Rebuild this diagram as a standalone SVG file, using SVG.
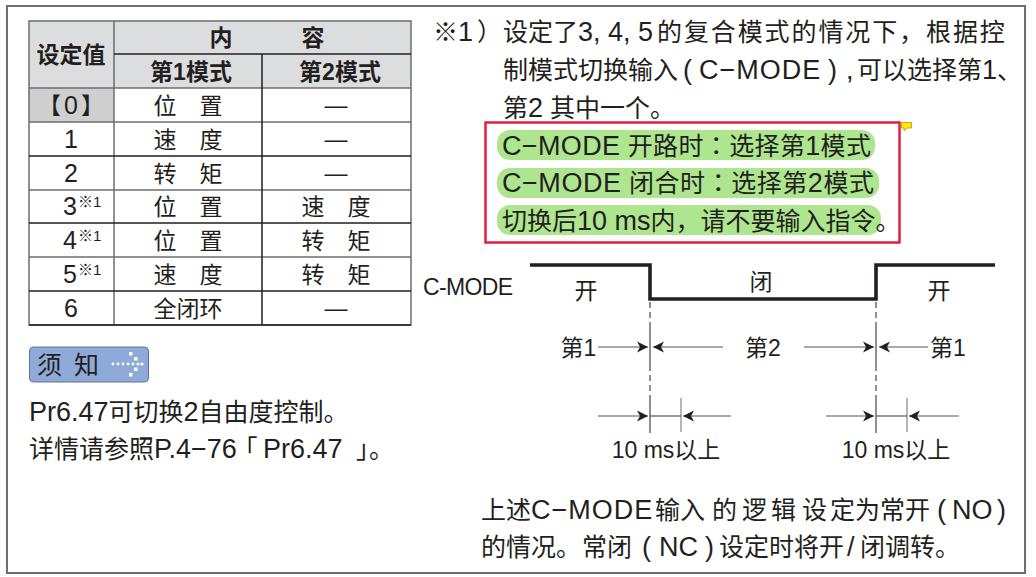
<svg xmlns="http://www.w3.org/2000/svg" width="1036" height="577" viewBox="0 0 1036 577">
<style>
text{font-family:"Liberation Sans","Noto Sans CJK SC",sans-serif;fill:#231f20;font-size:25px}
.t{font-size:23px;text-anchor:middle}
.b{font-weight:700}
.n{font-size:25px}
.s{font-size:15px}
.l{font-size:27px}
.c{font-family:"Noto Sans CJK TC",sans-serif}
.g{stroke:#231f20;stroke-width:1.5;fill:none}
.h{stroke:#6d6e70;stroke-width:1.5;fill:none}
.a{stroke:#555;stroke-width:1.2;fill:none}
.d{stroke:#231f20;stroke-width:1;stroke-dasharray:6 4;fill:none}
.p{fill:#aee58f}
</style>
<defs>
<marker id="ah" markerUnits="userSpaceOnUse" markerWidth="12" markerHeight="12" refX="11" refY="6" orient="auto-start-reverse"><path d="M0 0.5L11 6L0 11.5L3 6Z" fill="#231f20"/></marker>
</defs>
<rect id="frame" x="7" y="6" width="1018" height="567" fill="#fff" stroke="#6d6e70" stroke-width="2"/>
<g id="table">
<rect x="29" y="21" width="382" height="67" fill="#dcddde"/>
<rect x="29" y="88" width="85" height="34" fill="#cfcfd0"/>
<path class="h" d="M29 21H411V325H29ZM114 21V325M29 88H411M29 122H411M29 190H411M29 257H411"/>
<path class="g" d="M114 54H411M262 54V325M29 156H411M29 223H411M29 291H411M29 325H411"/>
<text class="t b" x="71" y="63">设定值</text>
<text class="t b" x="267" y="46">内　　　容</text>
<text class="t b" x="191" y="80">第1模式</text>
<text class="t b" x="340" y="80">第2模式</text>
<text class="t" x="71" y="114">【<tspan class="n" dx="3">0</tspan><tspan dx="3">】</tspan></text>
<text class="t" x="188" y="114">位　置</text>
<text class="t" x="336" y="113">—</text>
<text class="t n" x="71" y="148">1</text>
<text class="t" x="188" y="148">速　度</text>
<text class="t" x="336" y="147">—</text>
<text class="t n" x="71" y="182">2</text>
<text class="t" x="188" y="182">转　矩</text>
<text class="t" x="336" y="181">—</text>
<text class="n" x="63" y="215">3<tspan class="s" dx="1" dy="-8">※1</tspan></text>
<text class="t" x="188" y="215">位　置</text>
<text class="t" x="336" y="215">速　度</text>
<text class="n" x="63" y="249">4<tspan class="s" dx="1" dy="-8">※1</tspan></text>
<text class="t" x="188" y="249">位　置</text>
<text class="t" x="336" y="249">转　矩</text>
<text class="n" x="63" y="283">5<tspan class="s" dx="1" dy="-8">※1</tspan></text>
<text class="t" x="188" y="283">速　度</text>
<text class="t" x="336" y="283">转　矩</text>
<text class="t n" x="71" y="317">6</text>
<text class="t" x="188" y="317">全闭环</text>
<text class="t" x="336" y="316">—</text>
</g>
<g id="notice">
<rect x="29.5" y="347" width="119" height="35" rx="4" fill="#8faad8" stroke="#5f7597"/>
<text x="37" y="374" textLength="62" lengthAdjust="spacing">须 知</text>
<g fill="#fff"><circle cx="113" cy="364" r="1.4"/><circle cx="118" cy="364" r="1.4"/><circle cx="123" cy="364" r="1.4"/><circle cx="128" cy="364" r="1.4"/><circle cx="133" cy="364" r="1.4"/><circle cx="138" cy="364" r="1.6"/><circle cx="142" cy="364" r="1.6"/><rect x="129" y="352" width="3.5" height="3.5"/><rect x="134" y="357" width="3.5" height="3.5"/><rect x="134" y="367.500" width="3.5" height="3.5"/><rect x="129" y="373" width="3.5" height="3.5"/></g>
<text x="29" y="421"><tspan class="l">Pr6.47</tspan>可切换<tspan class="l">2</tspan>自由度控制。</text>
<text x="29" y="458">详情请参照<tspan class="l">P.4−76</tspan><tspan x="245">｢</tspan><tspan class="l" x="263">Pr6.47</tspan><tspan x="356">｣</tspan><tspan x="369">。</tspan></text>
</g>
<g id="note-text">
<text x="433" y="41">※<tspan class="l">1</tspan></text>
<text x="477" y="41">）</text>
<text x="503" y="41">设定了<tspan class="l">3, 4, 5</tspan><tspan x="657" letter-spacing="1.9">的复合模式的情况下，根据控</tspan></text>
<text x="503" y="79">制模式切换输入<tspan class="l" x="683">(</tspan><tspan class="l" x="699" letter-spacing="1">C−MODE</tspan><tspan class="l" x="828">)</tspan><tspan class="l" x="846">,</tspan><tspan x="857">可以选择第<tspan class="l">1</tspan>、</tspan></text>
<text x="503" y="117">第<tspan class="l">2</tspan> 其中一个。</text>
</g>
<g id="highlight">
<rect x="485.5" y="122.5" width="414" height="120" fill="#fff" stroke="#e0203f" stroke-width="2.5"/>
<rect class="p" x="497" y="130" width="378" height="30" rx="13"/>
<rect class="p" x="497" y="168" width="382" height="30" rx="13"/>
<rect class="p" x="497" y="205" width="384" height="30" rx="13"/>
<text x="502" y="155" textLength="369"><tspan class="l">C−MODE</tspan> 开路时<tspan class="c">：</tspan>选择第<tspan class="l">1</tspan>模式</text>
<text x="502" y="192" textLength="372"><tspan class="l">C−MODE</tspan> 闭合时<tspan class="c">：</tspan>选择第<tspan class="l">2</tspan>模式</text>
<text x="502" y="230">切换后<tspan class="l">10 ms</tspan>内，请不要输入指令。</text>
<path d="M901.500 122.500H911.500V128H907L904 131V128H901.500Z" fill="#ffe600" stroke="#b59a00" stroke-width="0.8"/>
</g>
<g id="timing-labels">
<text x="423" y="295" style="font-size:23px" textLength="90">C-MODE</text>
<text class="t" x="586" y="299">开</text>
<text class="t" x="761" y="290">闭</text>
<text class="t" x="939" y="299">开</text>
<text class="t" x="578.500" y="356">第1</text>
<text class="t" x="763" y="356">第2</text>
<text class="t" x="948" y="356">第1</text>
<text class="t" x="666" y="458">10 ms以上</text>
<text class="t" x="896" y="458">10 ms以上</text>
</g>
<g id="connectors">
<path d="M530 265H650V299H876V265H995" fill="none" stroke="#231f20" stroke-width="3.6"/>
<path class="d" d="M650 302V328M650 365V398M876 302V328M876 365V398"/>
<path class="g" style="stroke-width:1" d="M650 328V365M650 398V433M876 328V365M876 398V433"/>
<path class="h" style="stroke-width:1" d="M681 398V432M907 398V432"/>
<path class="a" marker-end="url(#ah)" d="M598 347H648"/>
<path class="a" marker-end="url(#ah)" d="M723 347H653"/>
<path class="a" marker-end="url(#ah)" d="M804 347H874"/>
<path class="a" marker-end="url(#ah)" d="M928 347H879"/>
<path class="a" marker-end="url(#ah)" d="M598 416H648"/>
<path class="a" d="M650 416H681"/>
<path class="a" marker-end="url(#ah)" d="M731 416H683"/>
<path class="a" marker-end="url(#ah)" d="M826 416H874"/>
<path class="a" d="M876 416H907"/>
<path class="a" marker-end="url(#ah)" d="M959 416H909"/>
</g>
<g id="footer">
<text x="481" y="519">上述<tspan class="l" letter-spacing="1">C−MODE</tspan><tspan x="655">输入</tspan><tspan x="712">的</tspan><tspan x="742">逻</tspan><tspan x="771">辑</tspan><tspan x="802">设</tspan><tspan x="830">定为常开</tspan><tspan class="l" x="937">(</tspan><tspan class="l" x="952">NO</tspan><tspan class="l" x="997">)</tspan></text>
<text x="481" y="556">的情况。<tspan x="582">常闭</tspan><tspan class="l" x="642">(</tspan><tspan class="l" x="659">NC</tspan><tspan class="l" x="705">)</tspan><tspan x="719">设定时将开</tspan><tspan class="l" x="847">/</tspan><tspan x="860">闭调转。</tspan></text>
</g>
</svg>
